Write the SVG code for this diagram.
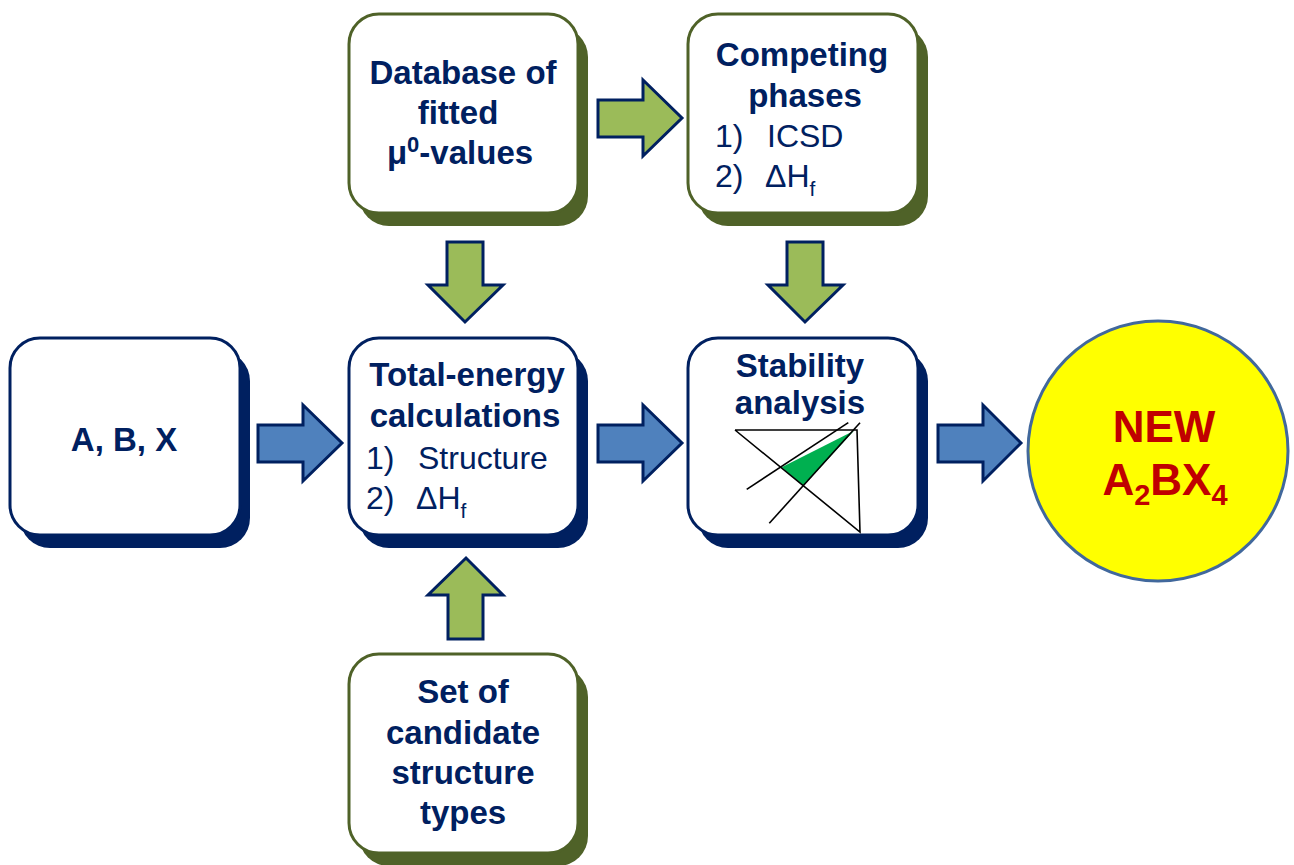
<svg xmlns="http://www.w3.org/2000/svg" width="1294" height="865" viewBox="0 0 1294 865">
  <style>
    .box { fill: #ffffff; stroke-width: 3; }
    .blue .box { stroke: #002060; }
    .blue .shadow { fill: #002060; }
    .green .box { stroke: #4f6228; }
    .green .shadow { fill: #4f6228; }
    text { font-family: "Liberation Sans", Arial, sans-serif; font-size: 32px; fill: #002060; }
    .b { font-weight: bold; font-size: 33px; }
    .mid { text-anchor: middle; }
    .arrow { stroke: #002060; stroke-width: 3; stroke-linejoin: miter; }
    .ab { fill: #4f81bd; }
    .ag { fill: #9bbb59; }
    .red { fill: #c00000; font-weight: bold; font-size: 44px; }
  </style>

  <!-- connectors: block arrows -->
  <g id="connectors">
    <path class="arrow ab" d="M258,425 H303 V405 L342,443 L303,481 V462 H258 Z"/>
    <path class="arrow ab" d="M598,425 H643 V405 L682,443 L643,481 V462 H598 Z"/>
    <path class="arrow ab" d="M938,425 H983 V405 L1021,443 L983,481 V462 H938 Z"/>
    <path class="arrow ag" d="M598,100 H643 V80 L682,118 L643,156 V137 H598 Z"/>
    <path class="arrow ag" d="M447,242 H483 V285 H503 L465,322 L428,285 H447 Z"/>
    <path class="arrow ag" d="M787,242 H823 V285 H843 L805,322 L768,285 H787 Z"/>
    <path class="arrow ag" d="M448,639 H483 V595 H503 L466,558 L428,595 H448 Z"/>
  </g>

  <!-- inputs -->
  <g id="abx" class="blue">
    <rect class="shadow" x="20" y="351" width="230" height="197" rx="30"/>
    <rect class="box" x="10" y="338" width="230" height="197" rx="30"/>
    <text class="b mid" x="124" y="451">A, B, X</text>
  </g>

  <g id="database" class="green">
    <rect class="shadow" x="359" y="27" width="229" height="199" rx="30"/>
    <rect class="box" x="349" y="14" width="229" height="199" rx="30"/>
    <text class="b mid" x="463" y="84">Database of</text>
    <text class="b mid" x="458" y="124">fitted</text>
    <text class="b mid" x="460" y="164">μ<tspan font-size="22" dy="-12">0</tspan><tspan dy="12">-values</tspan></text>
  </g>

  <g id="competing" class="green">
    <rect class="shadow" x="698" y="27" width="230" height="199" rx="30"/>
    <rect class="box" x="688" y="14" width="230" height="199" rx="30"/>
    <text class="b mid" x="802" y="66">Competing</text>
    <text class="b mid" x="805" y="107">phases</text>
    <text x="715" y="147">1)</text>
    <text x="767" y="147">ICSD</text>
    <text x="715" y="187">2)</text>
    <text x="765" y="187">ΔH<tspan font-size="21" dy="9">f</tspan></text>
  </g>

  <g id="total-energy" class="blue">
    <rect class="shadow" x="359" y="351" width="229" height="197" rx="30"/>
    <rect class="box" x="349" y="338" width="229" height="197" rx="30"/>
    <text class="b mid" x="467" y="386">Total-energy</text>
    <text class="b mid" x="465" y="427">calculations</text>
    <text x="366" y="469">1)</text>
    <text x="418" y="469">Structure</text>
    <text x="366" y="509">2)</text>
    <text x="416" y="509">ΔH<tspan font-size="21" dy="9">f</tspan></text>
  </g>

  <g id="candidates" class="green">
    <rect class="shadow" x="359" y="667" width="229" height="199" rx="30"/>
    <rect class="box" x="349" y="654" width="229" height="199" rx="30"/>
    <text class="b mid" x="463" y="703">Set of</text>
    <text class="b mid" x="463" y="744">candidate</text>
    <text class="b mid" x="463" y="784">structure</text>
    <text class="b mid" x="463" y="824">types</text>
  </g>

  <g id="stability" class="blue">
    <rect class="shadow" x="698" y="351" width="230" height="197" rx="30"/>
    <rect class="box" x="688" y="338" width="230" height="197" rx="30"/>
    <text class="b mid" x="800" y="377">Stability</text>
    <text class="b mid" x="800" y="414">analysis</text>
    <!-- stability sketch: stable region between two tie lines -->
    <polygon points="781.7,467.3 854,430.7 803.3,486" fill="#00b050"/>
    <g stroke="#000000" stroke-width="1.6" fill="none">
      <polyline points="735,430 857,430 860,532 735,430"/>
      <line x1="746.7" y1="489.3" x2="848.3" y2="422.7"/>
      <line x1="769.3" y1="523.3" x2="860" y2="422.7"/>
    </g>
  </g>

  <g id="result">
    <circle cx="1158" cy="451" r="130" fill="#ffff00" stroke="#41689c" stroke-width="3"/>
    <text class="red mid" x="1164" y="442">NEW</text>
    <text class="red mid" x="1165" y="495">A<tspan font-size="29" dy="10">2</tspan><tspan dy="-10">BX</tspan><tspan font-size="29" dy="10">4</tspan></text>
  </g>
</svg>
